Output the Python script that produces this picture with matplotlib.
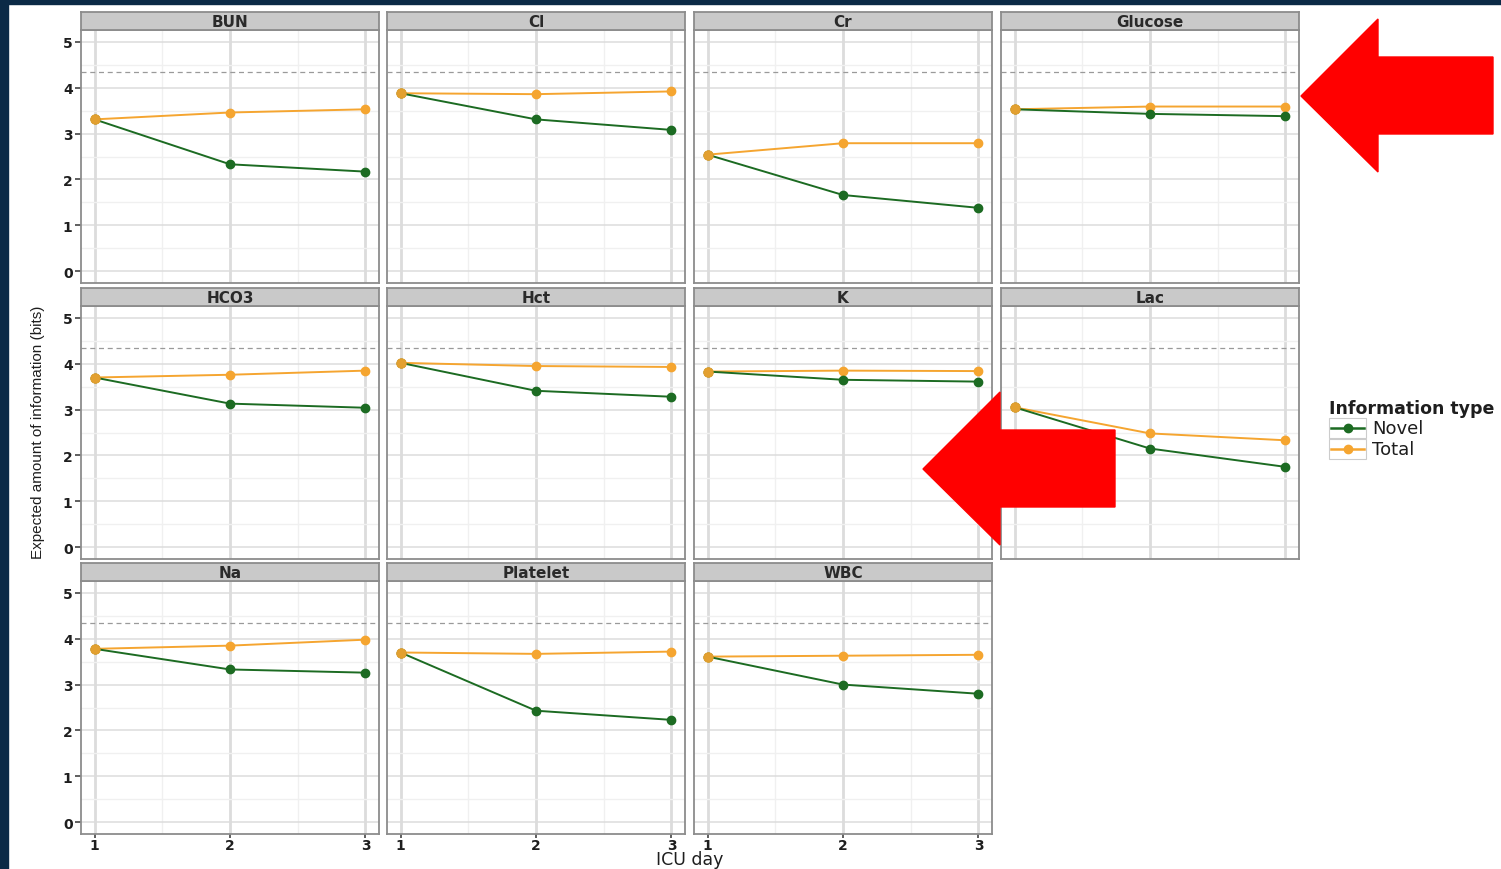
import matplotlib
matplotlib.use("Agg")
import matplotlib.pyplot as plt
from matplotlib.lines import Line2D
from matplotlib.patches import Rectangle, Polygon
from matplotlib.ticker import MultipleLocator

plt.rcParams['font.family'] = ['DejaVu Sans']

# --- data: expected information (bits) per lab test over ICU days ---
days = [1, 2, 3]
labs = ["BUN", "Cl", "Cr", "Glucose",
        "HCO3", "Hct", "K", "Lac",
        "Na", "Platelet", "WBC"]
novel = [
    [3.31, 2.33, 2.17],   # BUN
    [3.88, 3.31, 3.08],   # Cl
    [2.54, 1.66, 1.38],   # Cr
    [3.53, 3.43, 3.38],   # Glucose
    [3.70, 3.13, 3.04],   # HCO3
    [4.02, 3.41, 3.28],   # Hct
    [3.83, 3.65, 3.61],   # K
    [3.05, 2.15, 1.75],   # Lac
    [3.78, 3.33, 3.26],   # Na
    [3.70, 2.43, 2.23],   # Platelet
    [3.61, 3.00, 2.80],   # WBC
]
total = [
    [3.31, 3.46, 3.53],
    [3.88, 3.86, 3.92],
    [2.54, 2.79, 2.79],
    [3.53, 3.59, 3.59],
    [3.70, 3.76, 3.85],
    [4.02, 3.95, 3.93],
    [3.83, 3.85, 3.84],
    [3.05, 2.48, 2.33],
    [3.78, 3.85, 3.98],
    [3.70, 3.67, 3.72],
    [3.61, 3.63, 3.65],
]
ref_line = 4.34  # max information reference
series_names = ["Novel", "Total"]

GREEN = "#1c6b22"
ORANGE = "#f5a530"
GRID_MAJ = "#dcdcdc"
GRID_MIN = "#f0f0f0"
FRAME = "#8c8c8c"
STRIP = "#c9c9c9"
TXT = "#1e1e1e"

W, H = 1501, 870
fig = plt.figure(figsize=(W / 100, H / 100), dpi=100)


def fx(px):
    return px / W


def fy(py):
    return 1 - py / H


# dark slide border on left and top
fig.patches.append(Rectangle((0, 0), fx(8), 1, transform=fig.transFigure,
                             color="#0b2a46", zorder=0))
fig.patches.append(Rectangle((0, fy(5)), 1, 5 / H, transform=fig.transFigure,
                             color="#0b2a46", zorder=0))

col_left = [81, 387, 694, 1001]
panel_w = 298
strip_top = [13, 289, 564]
strip_h = 18
panel_h = 253

for i, lab in enumerate(labs):
    r, c = divmod(i, 4)
    x0 = col_left[c]
    y_strip = strip_top[r]
    y_top = y_strip + strip_h
    ax = fig.add_axes([fx(x0), fy(y_top + panel_h), panel_w / W, panel_h / H])

    ax.set_xlim(0.9, 3.1)
    ax.set_ylim(-0.26, 5.26)
    ax.xaxis.set_major_locator(MultipleLocator(1))
    ax.xaxis.set_minor_locator(MultipleLocator(0.5))
    ax.yaxis.set_major_locator(MultipleLocator(1))
    ax.yaxis.set_minor_locator(MultipleLocator(0.5))
    ax.grid(which="minor", color=GRID_MIN, linewidth=1.0)
    ax.grid(which="major", axis="y", color=GRID_MAJ, linewidth=1.1)
    ax.grid(which="major", axis="x", color=GRID_MAJ, linewidth=2.0)
    ax.set_axisbelow(True)
    for s in ax.spines.values():
        s.set_color(FRAME)
        s.set_linewidth(1.3)

    ax.axhline(ref_line, color="#9a9a9a", linestyle=(0, (4, 3)), linewidth=0.9)
    ax.plot(days, total[i], color=ORANGE, marker="o", ms=6, lw=1.4,
            mec=ORANGE, zorder=3)
    ax.plot(days, novel[i], color=GREEN, marker="o", ms=6, lw=1.4,
            mec=GREEN, zorder=4)
    ax.plot(days[:1], total[i][:1], color="#e3a030", marker="o", ms=6.5,
            ls="none", zorder=5)

    ax.tick_params(which="minor", length=0)
    ax.tick_params(which="major", length=4, width=1.2, color="#444444",
                   labelsize=10, labelcolor=TXT)
    if c == 0:
        ax.tick_params(axis="y", pad=2)
    else:
        ax.tick_params(axis="y", left=False, labelleft=False)
    if r == 2:
        ax.tick_params(axis="x", length=3, pad=0)
    else:
        ax.tick_params(axis="x", bottom=False, labelbottom=False)
    for t in ax.get_xticklabels() + ax.get_yticklabels():
        t.set_fontweight("bold")

    # facet strip
    sax = fig.add_axes([fx(x0), fy(y_top), panel_w / W, strip_h / H])
    sax.set_facecolor(STRIP)
    sax.set_xticks([])
    sax.set_yticks([])
    for s in sax.spines.values():
        s.set_color(FRAME)
        s.set_linewidth(1.3)
    sax.text(0.5, 0.45, lab, ha="center", va="center", fontsize=11,
             fontweight="bold", color="#2a2a2a", transform=sax.transAxes)

# axis titles
fig.text(fx(38), fy(432), "Expected amount of information (bits)",
         rotation=90, ha="center", va="center", fontsize=11,
         family=["Liberation Sans", "DejaVu Sans"], color=TXT)
fig.text(fx(690), fy(869), "ICU day", ha="center", va="bottom", fontsize=12.5,
         color=TXT)

# legend
fig.text(fx(1329), fy(409), "Information type", ha="left", va="center",
         fontsize=12.5, fontweight="bold", color=TXT)
for k, (name, col) in enumerate(zip(series_names, [GREEN, ORANGE])):
    yk = 429 + 21 * k
    fig.patches.append(Rectangle((fx(1329), fy(yk + 10)), 37 / W, 20 / H,
                                 transform=fig.transFigure, fill=False,
                                 edgecolor="#cccccc", linewidth=0.8))
    fig.lines.append(Line2D([fx(1331), fx(1364)], [fy(yk), fy(yk)],
                            transform=fig.transFigure, color=col, lw=1.8))
    fig.lines.append(Line2D([fx(1347.5)], [fy(yk)], transform=fig.transFigure,
                            color=col, marker="o", ms=6))
    fig.text(fx(1372), fy(yk), name, ha="left", va="center", fontsize=13,
             color=TXT)

# red call-out arrows
for tip_x, tip_y, head_x, tail_x in [(1301, 97, 1378, 1493),
                                     (923, 470, 1000, 1115)]:
    pts = [(tip_x, tip_y), (head_x, tip_y - 77), (head_x, tip_y - 39),
           (tail_x, tip_y - 39), (tail_x, tip_y + 38), (head_x, tip_y + 38),
           (head_x, tip_y + 76)]
    fig.patches.append(Polygon([(fx(x), fy(y)) for x, y in pts], closed=True,
                               transform=fig.transFigure, color="#ff0000",
                               zorder=10))

fig.savefig("out.png", dpi=100)
